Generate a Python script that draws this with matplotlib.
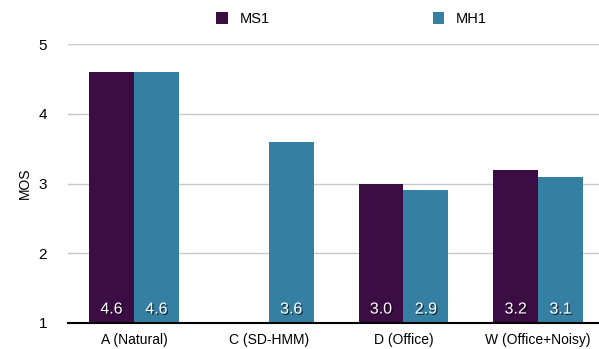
import numpy as np
import matplotlib.pyplot as plt
import matplotlib.patheffects as pe

plt.rcParams['font.family'] = ['Liberation Sans', 'DejaVu Sans']

categories = ['A (Natural)', 'C (SD-HMM)', 'D (Office)', 'W (Office+Noisy)']
ms1 = [4.6, np.nan, 3.0, 3.2]
mh1 = [4.6, 3.6, 2.9, 3.1]
series_names = ['MS1', 'MH1']
colors = ['#3c0c45', '#357fa2']

fig = plt.figure(figsize=(5.99, 3.49), dpi=100)
ax = fig.add_axes([68 / 599, 26 / 349, 531 / 599, 279 / 349])

x = np.arange(len(categories))
w = 1 / 3
ax.bar(x - w / 2, ms1, w, bottom=0, color=colors[0], label=series_names[0], zorder=3)
ax.bar(x + w / 2, mh1, w, bottom=0, color=colors[1], label=series_names[1], zorder=3)

# value labels sit near the bottom of each bar, white with a soft shadow
for xs, vals in [(x - w / 2, ms1), (x + w / 2, mh1)]:
    for xi, v in zip(xs, vals):
        if np.isnan(v):
            continue
        t = ax.text(xi, 1.2, f'{v:.1f}', ha='center', va='center', color='white',
                    fontsize=11.5, zorder=4)
        t.set_path_effects([pe.withSimplePatchShadow(offset=(1, -1), shadow_rgbFace='black', alpha=0.6)])

ax.set_ylim(1, 5)
left = -66 / 134.7
ax.set_xlim(left, left + 531 / 134.7)
ax.set_yticks([1, 2, 3, 4, 5])
ax.set_xticks(x)
ax.set_xticklabels(categories, fontsize=10)
ax.tick_params(axis='y', length=0, pad=15, labelsize=11)
ax.tick_params(axis='x', length=0, pad=7)
ax.grid(axis='y', color='#c8c8c8', linewidth=1, zorder=0)
for s in ['left', 'right', 'top']:
    ax.spines[s].set_visible(False)
ax.spines['bottom'].set_color('black')
ax.spines['bottom'].set_linewidth(1.5)
ax.spines['bottom'].set_zorder(5)
ax.set_ylabel('MOS', fontsize=10, labelpad=5)

fig.legend(loc='center left', bbox_to_anchor=(216 / 599, 1 - 19 / 349), ncol=2, frameon=False,
           fontsize=10.5, handlelength=0.8, handleheight=0.8, handletextpad=0.8,
           columnspacing=11.2, borderaxespad=0, borderpad=0)

fig.savefig('out.png', dpi=100)
